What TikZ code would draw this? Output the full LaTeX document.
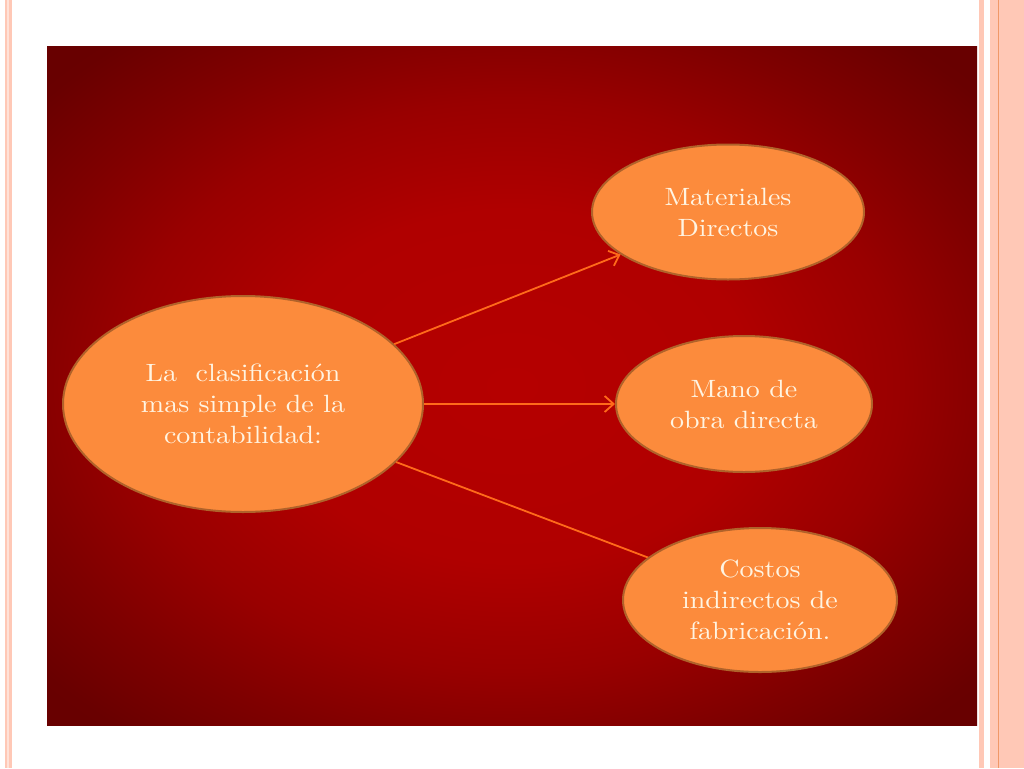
\documentclass[tikz,border=0pt]{standalone}
\usepackage{fontspec}
\setmainfont{lmroman10-regular.otf}[FakeStretch=1.12]
\usetikzlibrary{shapes.geometric,arrows.meta}
\definecolor{ovfill}{HTML}{FC8B3C}
\definecolor{ovline}{HTML}{B0622A}
\definecolor{txt}{HTML}{FFF4E2}
\definecolor{arr}{HTML}{FF6A1A}
\definecolor{stripe}{HTML}{FFC8B6}
\definecolor{stripelt}{HTML}{FFE2D8}
\definecolor{stripeor}{HTML}{F09868}
\pgfdeclareradialshading{panelshade}{\pgfpoint{0bp}{0bp}}{%
  rgb(0bp)=(0.71,0,0);
  rgb(13bp)=(0.69,0,0);
  rgb(21bp)=(0.60,0,0);
  rgb(27bp)=(0.50,0,0);
  rgb(33bp)=(0.41,0,0);
  rgb(50bp)=(0.40,0,0)}
\tikzset{
  oval/.style={ellipse, draw=ovline, line width=2pt, fill=ovfill, text=txt,
    align=center, inner sep=0pt, font=\fontsize{25}{31}\selectfont},
  conn/.style={draw=arr, line width=1.8pt, -{Straight Barb[length=9pt,width=16pt,line width=1.8pt]}},
  connplain/.style={draw=arr, line width=1.8pt}
}
\begin{document}
\begin{tikzpicture}[x=1pt,y=-1pt]
\useasboundingbox (0,0) rectangle (1024,768);
\fill[white] (0,0) rectangle (1024,768);
% side stripes
\fill[stripe] (5,0) rectangle (12,768);
\fill[stripelt] (7,0) rectangle (9,768);
\fill[stripe] (979,0) rectangle (984,768);
\fill[stripe] (990,0) rectangle (1024,768);
\fill[stripeor] (997.8,0) rectangle (999.2,768);
% background panel
\shade[shading=panelshade] (47,47) rectangle (977,725);
% nodes
\node[oval, minimum width=360pt, minimum height=216pt] (main) at (243,404)
  {La\ \ clasificación\\mas simple de la\\contabilidad:};
\node[oval, minimum width=272pt, minimum height=135pt] (mat) at (728,212)
  {Materiales\\Directos};
\node[oval, minimum width=256pt, minimum height=136pt] (mano) at (744,404)
  {Mano de\\obra directa};
% connectors (the last one runs under its target oval)
\path[conn] (main) -- (mat);
\path[conn] (main) -- (mano);
\coordinate (cstc) at (760,600);
\path[connplain] (main) -- (cstc);
\node[oval, minimum width=274pt, minimum height=144pt] (cost) at (cstc)
  {Costos\\indirectos de\\fabricación.};
\end{tikzpicture}
\end{document}
